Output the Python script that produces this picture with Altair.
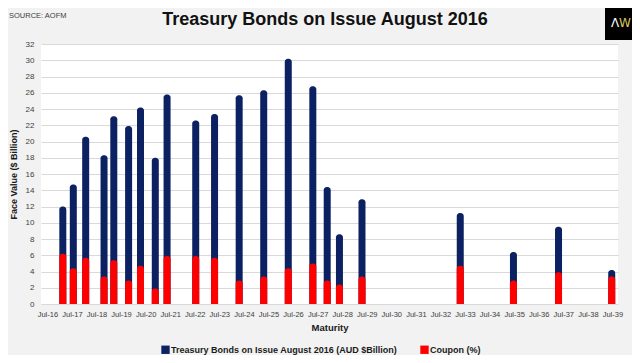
import altair as alt
import pandas as pd

FONT = "Liberation Sans, Arial, sans-serif"

maturity = ["2017-02-15", "2017-07-21", "2018-01-21", "2018-10-21", "2019-03-15",
            "2019-10-21", "2020-04-15", "2020-11-21", "2021-05-15", "2022-07-15",
            "2023-04-21", "2024-04-21", "2025-04-21", "2026-04-21", "2027-04-21",
            "2027-11-21", "2028-05-21", "2029-04-21", "2033-04-21", "2035-06-21",
            "2037-04-21", "2039-06-21"]
face_value = [12.0, 14.7, 20.6, 18.3, 23.1, 21.9, 24.2, 18.0, 25.8, 22.6, 23.4,
              25.7, 26.3, 30.2, 26.8, 14.4, 8.6, 12.9, 11.2, 6.4, 9.5, 4.2]
coupon = [6.2, 4.4, 5.7, 3.4, 5.4, 2.9, 4.7, 1.9, 5.9, 5.9, 5.7,
          2.9, 3.4, 4.4, 5.0, 2.9, 2.4, 3.4, 4.7, 2.9, 3.9, 3.4]
series_names = ["Treasury Bonds on Issue August 2016 (AUD $Billion)", "Coupon (%)"]
series_colors = ["#0c2162", "#ff0000"]
tick_years = list(range(2016, 2040))
y_ticks = list(range(0, 33, 2))
title_text = "Treasury Bonds on Issue August 2016"
source_text = "SOURCE: AOFM"

rows = []
for d, v in zip(maturity, face_value):
    rows.append({"date": d, "series": series_names[0], "value": v, "order": 0})
for d, v in zip(maturity, coupon):
    rows.append({"date": d, "series": series_names[1], "value": v, "order": 1})
df = pd.DataFrame(rows)

x_enc = alt.X(
    "date:T",
    scale=alt.Scale(type="utc",
                    domain=[alt.DateTime(year=2016, month=6, date=10, utc=True),
                            alt.DateTime(year=2039, month=7, date=10, utc=True)]),
    axis=alt.Axis(values=[alt.DateTime(year=y, month=7, date=1, utc=True) for y in tick_years],
                  format="%b-%y", labelFont=FONT, labelFontSize=7.5, labelColor="#404040",
                  domain=False, ticks=False, grid=False, labelPadding=6,
                  labelOverlap=False, labelFlush=False,
                  title="Maturity", titleFont=FONT, titleFontSize=9.5,
                  titleFontWeight="bold", titleColor="#1a1a1a", titlePadding=5),
)

bars = alt.Chart(df).mark_bar(size=7, cornerRadiusTopLeft=3, cornerRadiusTopRight=3).encode(
    x=x_enc,
    y=alt.Y("value:Q", stack=None,
            scale=alt.Scale(domain=[0, 32], nice=False),
            axis=alt.Axis(values=y_ticks, labelFont=FONT, labelFontSize=8,
                          labelColor="#404040", domain=False, ticks=False,
                          gridColor="#d9d9d9", labelPadding=7,
                          title="Face Value ($ Billion)", titleFont=FONT,
                          titleFontSize=9, titleFontWeight="bold",
                          titleColor="#1a1a1a", titlePadding=7)),
    color=alt.Color("series:N",
                    scale=alt.Scale(domain=series_names, range=series_colors),
                    legend=alt.Legend(title=None, orient="none", direction="horizontal",
                                      legendX=120, legendY=301,
                                      symbolType="square", symbolSize=70,
                                      symbolStrokeWidth=0, labelFont=FONT,
                                      labelFontSize=9, labelFontWeight="bold",
                                      labelColor="#1a1a1a", labelLimit=400,
                                      labelOffset=1, columnPadding=22)),
    order=alt.Order("order:Q"),
)

title = alt.Chart(pd.DataFrame({"t": [title_text]})).mark_text(
    align="center", baseline="middle", font=FONT, fontSize=18, fontWeight="bold",
    color="#111111").encode(x=alt.value(284), y=alt.value(-24), text="t:N")

source = alt.Chart(pd.DataFrame({"t": [source_text]})).mark_text(
    align="left", baseline="middle", font=FONT, fontSize=7.5, color="#404040").encode(
    x=alt.value(-32), y=alt.value(-28), text="t:N")

logo_bg = alt.Chart(pd.DataFrame({"t": [""]})).mark_rect(color="#000000").encode(
    x=alt.value(564), x2=alt.value(591), y=alt.value(-36), y2=alt.value(-4))
logo_a = alt.Chart(pd.DataFrame({"t": ["Λ"]})).mark_text(
    font="DejaVu Sans", fontSize=12, color="#ffffff", align="center", baseline="middle").encode(
    x=alt.value(574), y=alt.value(-21), text="t:N")
logo_w = alt.Chart(pd.DataFrame({"t": ["W"]})).mark_text(
    font="DejaVu Sans", fontSize=12, color="#d8c85a", align="center", baseline="middle").encode(
    x=alt.value(584), y=alt.value(-21), text="t:N")

chart = alt.layer(bars, title, source, logo_bg, logo_a, logo_w).properties(
    width=577, height=260,
    padding={"left": 33, "top": 36, "right": 14, "bottom": 51},
    autosize=alt.AutoSizeParams(type="none"),
    background="#f2f2f2",
).configure_view(fill="white", strokeWidth=0)

chart.save("out.html", embed_options={"renderer": "svg", "actions": False})
